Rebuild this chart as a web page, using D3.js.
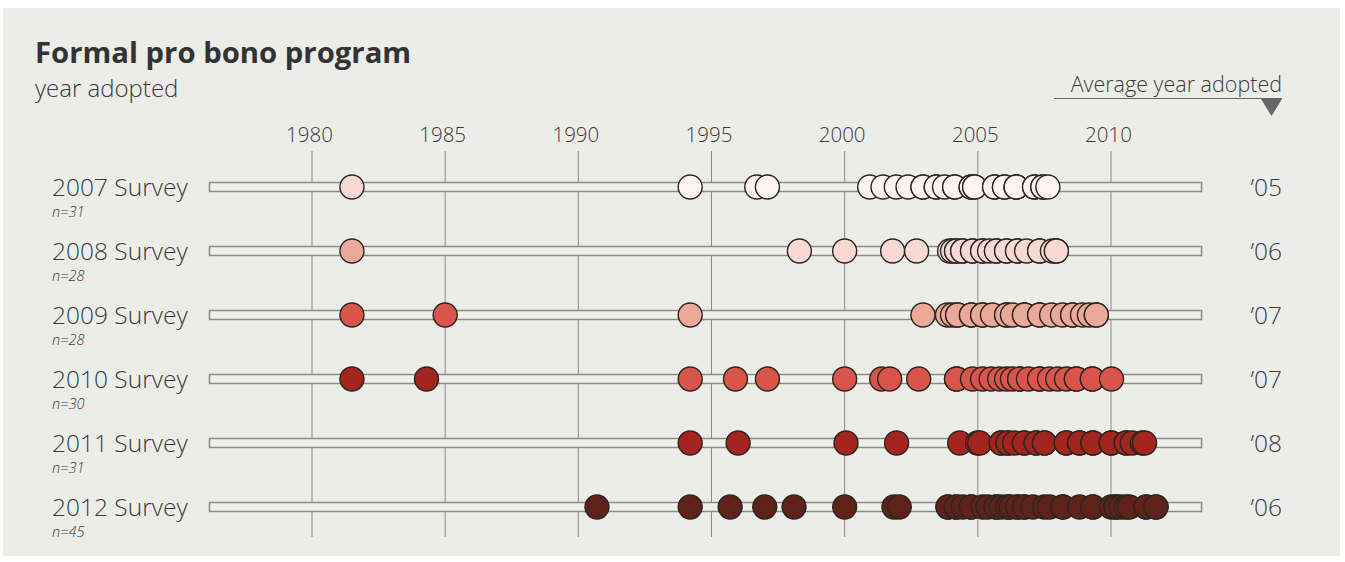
<!DOCTYPE html>
<html><head><meta charset="utf-8">
<script src="https://cdn.jsdelivr.net/npm/d3@7"></script>
<style>
html,body{margin:0;padding:0;background:#fff;}
svg{display:block;}
</style></head>
<body><svg id="chart" width="1345" height="562"></svg>
<script>
// ---- data ----
const surveys = ["2007 Survey","2008 Survey","2009 Survey","2010 Survey","2011 Survey","2012 Survey"];
const sampleSizes = ["n=31","n=28","n=28","n=30","n=31","n=45"];
const averageLabels = ["\u201905","\u201906","\u201907","\u201907","\u201908","\u201906"];
const tickYears = [1980,1985,1990,1995,2000,2005,2010];

const years2007 = [1981.5,1994.2,1996.7,1997.1,2000.94,2001.44,2001.94,2002.38,2002.94,2002.94,2003.44,2003.44,2003.75,2004.13,2004.13,2004.75,2004.75,2004.88,2004.88,2005.63,2005.63,2006.0,2006.0,2006.44,2006.44,2006.44,2007.13,2007.13,2007.44,2007.44,2007.63];
const years2008 = [1981.5,1998.3,2000.0,2001.8,2002.7,2003.94,2004.05,2004.2,2004.2,2004.43,2004.43,2004.8,2004.8,2005.18,2005.18,2005.44,2005.7,2005.7,2006.08,2006.08,2006.49,2006.49,2006.83,2007.32,2007.32,2007.8,2007.95,2007.95];
const years2009 = [1981.5,1985.0,1994.2,2002.94,2003.86,2004.05,2004.24,2004.24,2004.76,2004.76,2005.18,2005.18,2005.55,2006.08,2006.08,2006.3,2006.75,2006.75,2007.32,2007.32,2007.77,2008.18,2008.56,2008.56,2008.93,2009.19,2009.45,2009.45];
const years2010 = [1981.5,1984.3,1994.2,1995.9,1997.1,2000.0,2001.39,2001.69,2002.78,2004.2,2004.2,2004.8,2005.18,2005.5,2005.82,2006.08,2006.3,2006.57,2006.57,2006.9,2007.32,2007.32,2007.69,2008.0,2008.33,2008.7,2008.7,2009.3,2009.3,2010.02];
const years2011 = [1994.2,1996.0,2000.05,2001.95,2004.32,2004.99,2005.07,2005.88,2005.88,2006.13,2006.13,2006.38,2006.75,2006.75,2007.19,2007.19,2007.5,2007.5,2008.32,2008.32,2008.82,2008.82,2009.32,2009.32,2010.01,2010.01,2010.57,2010.57,2010.8,2011.18,2011.26];
const years2012 = [1990.7,1994.2,1995.7,1997.0,1998.1,2000.0,2001.85,2002.05,2003.88,2003.88,2004.19,2004.19,2004.44,2004.75,2004.75,2005.19,2005.38,2005.69,2005.69,2005.88,2006.13,2006.13,2006.25,2006.5,2006.5,2006.75,2006.75,2007.07,2007.5,2007.69,2008.19,2008.19,2008.82,2009.32,2009.32,2010.01,2010.19,2010.19,2010.38,2010.57,2010.69,2011.32,2011.32,2011.69,2011.69];
const surveyYears = [years2007,years2008,years2009,years2010,years2011,years2012];
// number of leading (earliest) dots in each row shown in the next darker shade
const earlyShaded = [1,1,2,2,0,0];
const shades = ["#fdf4f1","#f7d8d2","#eba999","#d9544a","#a3251d","#5e2218"];

// ---- layout ----
const svg = d3.select("#chart");
svg.append("rect").attr("x",3).attr("y",8).attr("width",1337).attr("height",548).attr("fill","#ecece8");

const x = d3.scaleLinear().domain([1980,2010]).range([312,1111]);
const trackExtent = [1976.15, 2013.4];
const y = d3.scaleBand().domain(surveys).range([155,539]);
const rowY = s => y(s) + y.bandwidth()/2;

const font = "'Open Sans','Segoe UI',sans-serif";
const txt = "#3a3a3a";

// title
svg.append("text").attr("x",35).attr("y",63).attr("font-family",font).attr("font-weight",700)
  .attr("font-size",29.3).attr("fill","#333").text("Formal pro bono program");
svg.append("text").attr("x",35).attr("y",97).attr("font-family",font).attr("font-weight",300)
  .attr("font-size",24).attr("fill",txt).text("year adopted");

// avg legend
svg.append("text").attr("x",1282).attr("y",92).attr("text-anchor","end").attr("font-family",font).attr("font-weight",300)
  .attr("font-size",21.5).attr("fill",txt).text("Average year adopted");
svg.append("line").attr("x1",1054).attr("x2",1282).attr("y1",98.5).attr("y2",98.5).attr("stroke","#666").attr("stroke-width",1.2);
svg.append("path").attr("d","M1261,99 L1282,99 L1271.5,116 Z").attr("fill","#666");

// axis
const axis = d3.axisTop(x).tickValues(tickYears).tickFormat(d3.format("d")).tickSize(0).tickPadding(0);
const gAxis = svg.append("g").attr("transform","translate(-3,142)").call(axis);
gAxis.select(".domain").remove();
gAxis.selectAll("text").attr("font-family",font).attr("font-weight",300).attr("font-size",20.5).attr("fill",txt);

// gridlines
svg.append("g").selectAll("line").data(tickYears).join("line")
  .attr("x1",d=>x(d)).attr("x2",d=>x(d)).attr("y1",151).attr("y2",537)
  .attr("stroke","#8a8a8a").attr("stroke-width",1);

// rows
surveys.forEach((s,i)=>{
  const cy = rowY(s);
  const g = svg.append("g");
  g.append("rect").attr("x",x(trackExtent[0])).attr("y",cy-4.5).attr("width",x(trackExtent[1])-x(trackExtent[0])).attr("height",9)
    .attr("fill","#efefeb").attr("stroke","#8a8a8a").attr("stroke-width",1.5);
  g.append("text").attr("x",52).attr("y",cy+9).attr("font-family",font).attr("font-weight",300)
    .attr("font-size",24.5).attr("fill",txt).text(s);
  g.append("text").attr("x",52).attr("y",cy+30).attr("font-family",font).attr("font-style","italic").attr("font-weight",300)
    .attr("font-size",14.5).attr("fill",txt).text(sampleSizes[i]);
  g.append("text").attr("x",1282).attr("y",cy+9).attr("text-anchor","end").attr("font-family",font).attr("font-weight",300)
    .attr("font-size",24.5).attr("fill",txt).text(averageLabels[i]);
  g.selectAll("circle").data(surveyYears[i]).join("circle")
    .attr("cx",d=>x(d)).attr("cy",cy).attr("r",12)
    .attr("fill",(d,j)=> j < earlyShaded[i] ? shades[Math.min(i+1,5)] : shades[i])
    .attr("stroke","#2b2523").attr("stroke-width",1.4);
});
</script></body></html>
